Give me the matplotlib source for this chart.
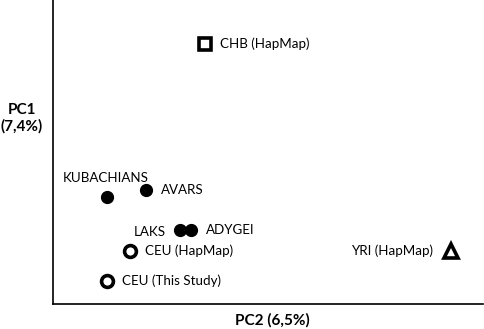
import matplotlib.pyplot as plt

# ---------- data (PCA scores, arbitrary units) ----------
names = ["CHB (HapMap)", "KUBACHIANS", "AVARS", "LAKS", "ADYGEI",
         "CEU (HapMap)", "CEU (This Study)", "YRI (HapMap)"]
pc2 = [35.3, 12.6, 21.6, 29.5, 32.1, 17.9, 12.6, 92.6]
pc1 = [85.5, 35.2, 37.5, 24.3, 24.3, 17.4, 7.6, 17.4]

# ---------- styling ----------
markers = ["s", "o", "o", "o", "o", "o", "o", "^"]
filled = [False, True, True, True, True, False, False, False]
msize = [8, 8.5, 8.5, 8.5, 8.5, 8.5, 8.5, 9.5]
# label offsets (points) and alignment
offs = [(11, 0), (-1, 14), (11, 0), (-10, -1), (11, 0), (11, 0), (11, 0), (-13, 0)]
has = ["left", "center", "left", "right", "left", "left", "left", "right"]

plt.rcParams['font.family'] = ['Lato', 'DejaVu Sans']

fig = plt.figure(figsize=(4.84, 3.29), dpi=100)
ax = fig.add_axes([53/484, 25/329, 430/484, 304/329])
ax.set_xlim(0, 100)
ax.set_ylim(0, 100)

for i in range(len(names)):
    fc = "black" if filled[i] else "white"
    ax.plot(pc2[i], pc1[i], marker=markers[i], ms=msize[i], mfc=fc,
            mec="black", mew=2.6 if not filled[i] else 1, ls="none")
    ax.annotate(names[i], (pc2[i], pc1[i]), xytext=offs[i],
                textcoords="offset points", ha=has[i], va="center",
                fontsize=9.6)

for s in ["top", "right"]:
    ax.spines[s].set_visible(False)
ax.spines["left"].set_linewidth(1.2)
ax.spines["bottom"].set_linewidth(1.2)
ax.set_xticks([])
ax.set_yticks([])

fig.text(272/484, 1 - 320/329, "PC2 (6,5%)", ha="center", va="center",
         fontsize=11, fontweight="bold")
fig.text(22/484, 1 - 118/329, "PC1\n(7,4%)", ha="center", va="center",
         fontsize=11, fontweight="bold", linespacing=1.2)

fig.savefig("out.png", dpi=100)
